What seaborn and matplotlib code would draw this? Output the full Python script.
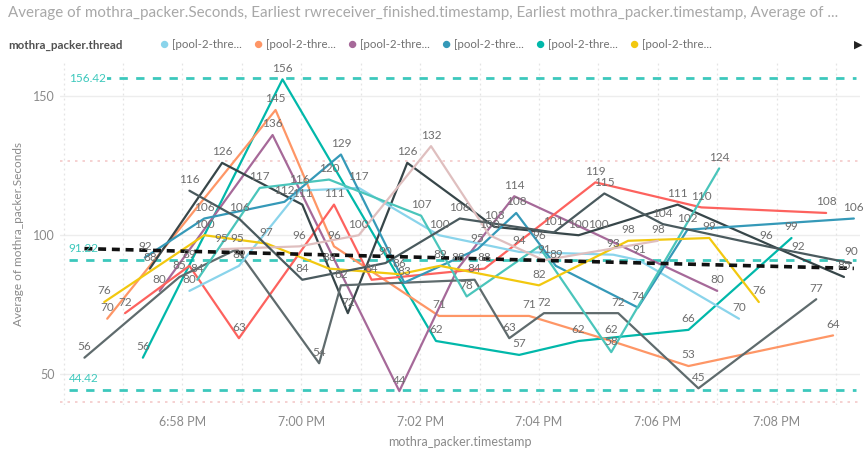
import numpy as np
import pandas as pd
import matplotlib
matplotlib.use("Agg")
import matplotlib.pyplot as plt
import matplotlib.dates as mdates
import seaborn as sns

DAY = "2018-05-10 "

# ---- per-thread samples: timestamp (HH:MM:SS) and average seconds ----
t1_times = ["18:57:20", "18:59:41", "19:02:16", "19:03:40", "19:04:40", "19:06:31", "19:08:15"]
t1_secs = [56, 156, 62, 57, 62, 66, 99]

t2_times = ["18:56:44", "18:59:34", "19:00:33", "19:02:19", "19:03:50", "19:05:13", "19:06:31", "19:08:57"]
t2_secs = [70, 145, 96, 71, 71, 62, 53, 64]

t3_times = ["18:57:37", "18:59:31", "19:01:39", "19:02:38", "19:03:35", "19:05:00", "19:07:00"]
t3_secs = [80, 136, 44, 88, 114, 100, 80]

t4_times = ["18:57:02", "18:58:07", "18:58:57", "19:00:33", "19:01:11", "19:03:05", "19:04:57", "19:06:44", "19:08:50"]
t4_secs = [72, 89, 63, 111, 84, 88, 119, 110, 108]

t5_times = ["18:57:27", "18:58:40", "19:00:01", "19:00:47", "19:01:47", "19:03:15", "19:04:40", "19:06:20", "19:08:22", "19:09:08"]
t5_secs = [88, 126, 111, 72, 126, 103, 100, 111, 92, 85]

t6_times = ["18:56:21", "18:57:57", "18:58:55", "19:00:18", "19:00:40", "19:02:55", "19:03:30", "19:04:05", "19:05:20", "19:06:41", "19:08:40"]
t6_secs = [56, 85, 95, 54, 82, 84, 63, 72, 72, 45, 77]

t7_times = ["18:58:07", "18:58:57", "18:59:58", "19:00:58", "19:02:19", "19:03:40", "19:05:15", "19:05:41", "19:07:22"]
t7_secs = [80, 89, 116, 117, 100, 94, 93, 91, 70]

t8_times = ["18:57:22", "18:58:22", "18:59:43", "19:00:40", "19:01:44", "19:02:58", "19:03:37", "19:04:17", "19:05:40", "19:06:30", "19:09:18"]
t8_secs = [92, 106, 112, 129, 83, 95, 108, 89, 74, 102, 106]

t9_times = ["18:58:15", "18:59:18", "19:00:28", "19:02:01", "19:02:47", "19:04:00", "19:05:13", "19:07:02"]
t9_secs = [84, 117, 120, 107, 78, 96, 58, 124]

t10_times = ["18:56:41", "18:58:22", "18:59:25", "19:00:28", "19:01:39", "19:02:20", "19:04:00", "19:05:30", "19:06:52", "19:07:42"]
t10_secs = [76, 100, 97, 88, 86, 89, 82, 98, 99, 76]

t11_times = ["18:58:39", "18:59:58", "19:00:58", "19:02:11", "19:03:10", "19:04:05", "19:06:00"]
t11_secs = [95, 96, 100, 132, 100, 91, 98]

t12_times = ["18:58:07", "18:58:57", "19:00:01", "19:01:25", "19:02:40", "19:04:15", "19:05:06", "19:06:05", "19:07:50", "19:09:15"]
t12_secs = [116, 106, 84, 90, 106, 101, 115, 104, 96, 90]

thread_names = ["[pool-2-thread-1]", "[pool-2-thread-10]", "[pool-2-thread-11]", "[pool-2-thread-12]",
                "[pool-2-thread-2]", "[pool-2-thread-3]", "[pool-2-thread-4]", "[pool-2-thread-5]",
                "[pool-2-thread-6]", "[pool-2-thread-7]", "[pool-2-thread-8]", "[pool-2-thread-9]"]
thread_colors = ["#01B8AA", "#FE9666", "#A66999", "#FD625E", "#374649", "#5F6B6D",
                 "#8AD4EB", "#3599B8", "#4AC5BB", "#F2C80F", "#DFBFBF", "#4A5A5E"]
all_times = [t1_times, t2_times, t3_times, t4_times, t5_times, t6_times,
             t7_times, t8_times, t9_times, t10_times, t11_times, t12_times]
all_secs = [t1_secs, t2_secs, t3_secs, t4_secs, t5_secs, t6_secs,
            t7_secs, t8_secs, t9_secs, t10_secs, t11_secs, t12_secs]

# legend entries visible in the header row
legend_colors = ["#8AD4EB", "#FE9666", "#A66999", "#3599B8", "#01B8AA", "#F2C80F"]
legend_label = "[pool-2-thre..."

# constant / min / max / average reference lines
ref_values = [156.42, 91.22, 44.42]
ref_labels = ["156.42", "91.22", "44.42"]
faint_lines = [126.5, 40.2]

tick_times = ["18:58", "19:00", "19:02", "19:04", "19:06", "19:08"]
tick_labels = ["6:58 PM", "7:00 PM", "7:02 PM", "7:04 PM", "7:06 PM", "7:08 PM"]
y_ticks = [50, 100, 150]

rows = []
for name, ts, vs in zip(thread_names, all_times, all_secs):
    for t, v in zip(ts, vs):
        rows.append({"thread": name, "timestamp": pd.Timestamp(DAY + t), "seconds": v})
df = pd.DataFrame(rows)

sns.set_theme(style="white")
plt.rcParams["font.family"] = ["Lato", "DejaVu Sans"]

fig = plt.figure(figsize=(8.65, 4.5), dpi=100)
ax = fig.add_axes([0.069, 0.1, 0.925, 0.762])

x_lo = pd.Timestamp(DAY + "18:55:56")
x_hi = pd.Timestamp(DAY + "19:09:24")
ax.set_xlim(x_lo, x_hi)
ax.set_ylim(39, 162.2)

# grid
for v in y_ticks:
    ax.axhline(v, color="#EDEDED", lw=1.0, zorder=0)
for m in pd.date_range(DAY + "18:56", DAY + "19:09", freq="1min"):
    ax.axvline(m, color="#E4E4E4", lw=0.9, ls=(0, (1.5, 2.5)), zorder=0)
for v in faint_lines:
    ax.axhline(v, color="#F4C9C9", lw=1.2, ls=(0, (1.5, 3)), zorder=0)

palette = dict(zip(thread_names, thread_colors))
sns.lineplot(data=df, x="timestamp", y="seconds", hue="thread", palette=palette,
             estimator=None, sort=True, lw=1.6, legend=False, ax=ax, zorder=3)

# data labels
for _, r in df.iterrows():
    ax.annotate(f"{r.seconds:g}", (r.timestamp, r.seconds), xytext=(0, 4),
                textcoords="offset points", ha="center", va="bottom",
                fontsize=8.5, color="#6E6E6E", zorder=5)

# reference lines (teal dashed)
ref_color = "#3CC8BC"
for v in ref_values:
    ax.axhline(v, color=ref_color, lw=2, ls=(0, (3, 3)), zorder=2,
               xmin=0.012, xmax=0.995)
lab_x = pd.Timestamp(DAY + "18:56:05")
ax.text(lab_x, ref_values[0], ref_labels[0], color=ref_color, fontsize=8.5,
        va="center", ha="left", zorder=6,
        bbox=dict(boxstyle="square,pad=0.1", fc="white", ec="none"))
ax.text(lab_x, ref_values[1] + 2.2, ref_labels[1], color=ref_color, fontsize=8.5,
        va="bottom", ha="left", zorder=6)
ax.text(lab_x, ref_values[2] + 2.2, ref_labels[2], color=ref_color, fontsize=8.5,
        va="bottom", ha="left", zorder=6)

# linear trend over all threads (black dashed)
xnum = mdates.date2num(df["timestamp"])
k, b = np.polyfit(xnum, df["seconds"], 1)
tx = mdates.date2num([pd.Timestamp(DAY + "18:56:21"), pd.Timestamp(DAY + "19:09:18")])
ax.plot(tx, k * tx + b, color="#111111", lw=2.6, ls=(0, (2.2, 1.6)), zorder=4)

# axes styling
ax.set_xticks([pd.Timestamp(DAY + t) for t in tick_times])
ax.set_xticklabels(tick_labels)
ax.set_yticks(y_ticks)
ax.tick_params(axis="both", length=0, labelsize=9, colors="#8A8A8A")
ax.tick_params(axis="x", pad=8)
for s in ax.spines.values():
    s.set_visible(False)
ax.set_xlabel("mothra_packer.timestamp", fontsize=9, color="#8A8A8A", labelpad=6)
ax.set_ylabel("Average of mothra_packer.Seconds", fontsize=8.5, color="#8A8A8A", labelpad=4)
ax.yaxis.set_label_coords(-0.045, 0.5)

# header: title and legend row
fig.text(8 / 865, 1 - 13 / 450,
         "Average of mothra_packer.Seconds, Earliest rwreceiver_finished.timestamp, "
         "Earliest mothra_packer.timestamp, Average of ...",
         fontsize=10.9, color="#A8A8A8", va="center", ha="left")
fig.text(8 / 865, 1 - 45 / 450, "mothra_packer.thread", fontsize=8.3,
         fontweight="bold", color="#505050", va="center", ha="left")
legend_x = [164, 258, 352, 446, 540, 634]
for lx, c in zip(legend_x, legend_colors):
    fig.text(lx / 865, 1 - 45 / 450, "\u25CF", fontsize=11, color=c,
             va="center", ha="center")
    fig.text((lx + 8) / 865, 1 - 45 / 450, legend_label, fontsize=8.3,
             color="#707070", va="center", ha="left")
fig.text(858 / 865, 1 - 45 / 450, "\u25B6", fontsize=8, color="#222222",
         va="center", ha="center", family=["DejaVu Sans"])

fig.savefig("out.png", dpi=100)
